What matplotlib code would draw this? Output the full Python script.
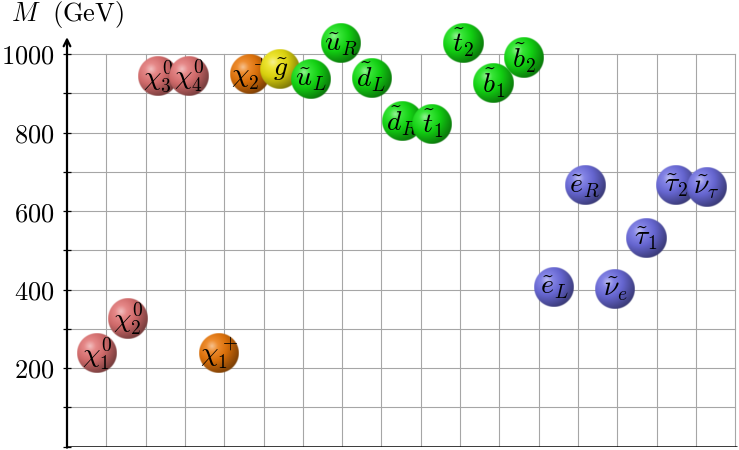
import numpy as np
import matplotlib
matplotlib.use("Agg")
import matplotlib.pyplot as plt

plt.rcParams['mathtext.fontset'] = 'cm'

# ---- data ----
labels = [r'$\chi^0_1$', r'$\chi^0_2$', r'$\chi^0_3$', r'$\chi^0_4$',
          r'$\chi^+_1$', r'$\chi^+_2$', r'$\tilde{g}$',
          r'$\tilde{u}_L$', r'$\tilde{u}_R$', r'$\tilde{d}_L$', r'$\tilde{d}_R$',
          r'$\tilde{t}_1$', r'$\tilde{t}_2$', r'$\tilde{b}_1$', r'$\tilde{b}_2$',
          r'$\tilde{e}_L$', r'$\tilde{e}_R$', r'$\tilde{\nu}_e$',
          r'$\tilde{\tau}_1$', r'$\tilde{\tau}_2$', r'$\tilde{\nu}_\tau$']
masses = [237, 326, 944, 944, 237, 948, 962, 937, 1029, 940, 830, 822,
          1029, 925, 990, 407, 665, 400, 532, 667, 660]
groups = ['neutralino'] * 4 + ['chargino'] * 2 + ['gluino'] + ['squark'] * 8 + ['slepton'] * 6
group_colors = {'neutralino': (225, 115, 115), 'chargino': (235, 120, 10),
                'gluino': (235, 225, 15), 'squark': (20, 225, 20),
                'slepton': (110, 110, 225)}
yticks = list(range(0, 1001, 100))
ytick_labels = ['' if (v == 0 or v % 200) else f'${v}$' for v in yticks]

# ---- layout ----
W, H = 739, 450
fig = plt.figure(figsize=(W / 100, H / 100), dpi=100)
x0px, y0px = 67, 446.5
px_per_x = 39.3
px_per_gev = 0.3925
ax = fig.add_axes([x0px / W, (H - y0px) / H, (W - x0px) / W, y0px / H])
xmax = (W - x0px) / px_per_x
ymax = y0px / px_per_gev
ax.set_xlim(0, xmax)
ax.set_ylim(0, ymax)
for s in ax.spines.values():
    s.set_visible(False)

# grid
gcol = '#a6a6a6'
for gx in range(1, 18):
    ax.plot([gx, gx], [0, 1000], color=gcol, lw=0.8, zorder=1)
for gy in range(100, 1001, 100):
    ax.plot([0, 17], [gy, gy], color=gcol, lw=0.8, zorder=1)

# axes lines
ax.plot([0, 17.05], [0, 0], color='black', lw=1.8, zorder=2, solid_capstyle='butt')
ax.annotate('', xy=(0, 1043), xytext=(0, -3),
            arrowprops=dict(arrowstyle='->', lw=1.6, color='black',
                            mutation_scale=12, shrinkA=0, shrinkB=0), zorder=2)

ax.set_xticks([])
ax.set_yticks(yticks)
ax.set_yticklabels(ytick_labels, fontsize=19)
ax.tick_params(axis='y', direction='inout', length=6, width=0.9, pad=6)

# balls
rx = 20 / px_per_x
ry = 20 / px_per_gev


def ball_rgba(color, n=121):
    u = np.linspace(-1, 1, n)
    U, V = np.meshgrid(u, u)
    d = np.hypot(U + 0.35, V - 0.35)
    c = np.array(color) / 255.0
    stops = [0.0, 0.3, 0.75, 1.1, 1.6]
    cols = np.array([0.45 * c + 0.55, 0.85 * c + 0.15, 0.92 * c, 0.72 * c, 0.45 * c])
    img = np.zeros((n, n, 4))
    for k in range(3):
        img[..., k] = np.interp(d, stops, cols[:, k])
    r = np.hypot(U, V)
    img[..., 3] = np.clip((1 - r) * 20 + 0.5, 0, 1)
    return img


xs = 0.775 * np.arange(1, len(labels) + 1)
for i, (lab, m, g) in enumerate(zip(labels, masses, groups)):
    x = xs[i]
    ax.imshow(ball_rgba(group_colors[g]), extent=[x - rx, x + rx, m - ry, m + ry],
              origin='lower', interpolation='bilinear', aspect='auto', zorder=3 + 2 * i)
    ax.text(x, m, lab, ha='center', va='center', fontsize=20, zorder=4 + 2 * i)

ax.set_xlim(0, xmax)
ax.set_ylim(0, ymax)

fig.text(11 / W, 1 - 15 / H, r'$M\ \ \mathrm{(GeV)}$', fontsize=19, ha='left', va='center')

fig.savefig('out.png', dpi=100)
